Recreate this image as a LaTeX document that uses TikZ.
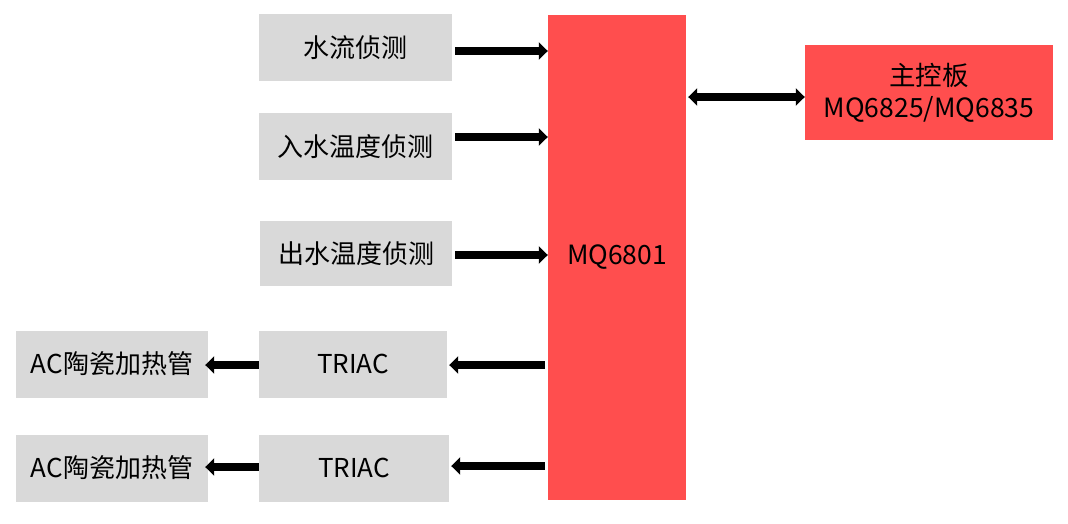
\documentclass[tikz,border=0pt]{standalone}
\usepackage{fontspec}
\setmainfont{Noto Sans CJK SC}
\usetikzlibrary{arrows.meta}
\begin{document}
\begin{tikzpicture}[x=1pt,y=-1pt,
  gbox/.style={fill=black!15,draw=none,minimum width=193pt,minimum height=67pt,inner sep=0pt,font=\fontsize{26}{30}\selectfont},
  rbox/.style={fill=red!70!white,draw=none,inner sep=0pt},
  conn/.style={line width=7.5pt,-{Triangle[length=9pt,width=17pt]}},
]
\useasboundingbox (0,0) rectangle (1068,523);
\fill[white] (0,0) rectangle (1068,523);
\definecolor{mred}{RGB}{255,78,78}
\definecolor{mgray}{RGB}{217,217,217}
\tikzset{gbox/.append style={fill=mgray},rbox/.append style={fill=mred}}
\node[gbox] (flow) at (355.5,47.5) {水流侦测};
\node[gbox] (tin) at (355.5,146.5) {入水温度侦测};
\node[gbox,minimum width=192pt,minimum height=65pt] (tout) at (356,253.5) {出水温度侦测};
\node[gbox,minimum width=188pt] (tr1) at (353,364) {TRIAC};
\node[gbox,minimum width=190pt] (tr2) at (354,468) {TRIAC};
\node[gbox,minimum width=192pt] (ac1) at (112,364) {AC陶瓷加热管};
\node[gbox,minimum width=192pt] (ac2) at (112,468) {AC陶瓷加热管};
\node[rbox,minimum width=138pt,minimum height=485pt,font=\fontsize{26.5}{30}\selectfont] (mcu) at (617,257.5) {MQ6801};
\node[rbox,minimum width=248pt,minimum height=95pt,align=center,font=\fontsize{26.5}{32}\selectfont] (main) at (929,92.5) {主控板\\MQ6825/MQ6835};
\draw[conn] (flow.east |- 0,51) ++(3,0) -- (mcu.west |- 0,51);
\draw[conn] (tin.east |- 0,137) ++(3,0) -- (mcu.west |- 0,137);
\draw[conn] (tout.east |- 0,255) ++(3,0) -- (mcu.west |- 0,255);
\draw[conn] (mcu.west |- 0,365) ++(-3,0) -- ([xshift=2pt]tr1.east |- 0,365);
\draw[conn] (mcu.west |- 0,466) ++(-3,0) -- ([xshift=2pt]tr2.east |- 0,466);
\draw[conn] (tr1.west |- 0,365) -- ([xshift=-3pt]ac1.east |- 0,365);
\draw[conn] (tr2.west |- 0,467) -- ([xshift=-3pt]ac2.east |- 0,467);
\draw[line width=7.5pt,{Triangle[length=9pt,width=17pt]}-{Triangle[length=9pt,width=17pt]}] ([xshift=2pt]mcu.east |- 0,97) -- (main.west |- 0,97);
\end{tikzpicture}
\end{document}
